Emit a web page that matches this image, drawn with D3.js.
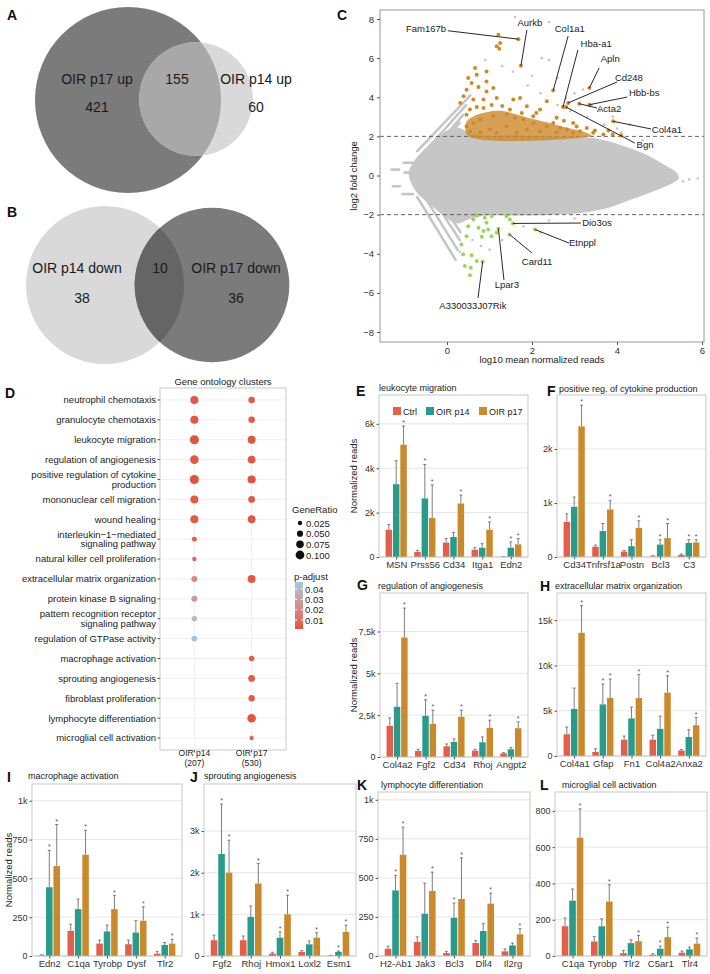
<!DOCTYPE html>
<html>
<head>
<meta charset="utf-8">
<script src="https://cdn.jsdelivr.net/npm/d3@7"></script>
<style>
  body { margin: 0; background: #fff; }
  svg { display: block; font-family: "Liberation Sans", Arial, sans-serif; }
</style>
</head>
<body>
<svg id="fig" width="710" height="974"></svg>
<script>
// ---------------- data ----------------
// Venn diagrams: [only first, shared, only second]
const vennUpSets = ['OIR p17 up', 'OIR p14 up'];
const vennUpCounts = [421, 155, 60];
const vennDownSets = ['OIR p14 down', 'OIR p17 down'];
const vennDownCounts = [38, 10, 36];

// MA plot (log10 mean reads, log2 fold change)
const maCloud = [[-0.9,0.1],[-0.75,0.8],[-0.5,1.4],[-0.25,1.9],[0.0,2.3],[0.25,2.45],[0.5,2.2],[0.8,2.05],
  [1.5,2.05],[2.5,2.0],[3.3,1.95],[3.8,1.75],[4.3,1.4],[4.8,0.95],[5.15,0.5],[5.4,0.15],[5.45,-0.15],
  [5.2,-0.5],[4.8,-0.85],[4.3,-1.25],[3.8,-1.65],[3.2,-1.9],[2.5,-2.0],[1.5,-2.05],[0.9,-2.05],
  [0.5,-2.25],[0.25,-2.45],[0.0,-2.2],[-0.25,-1.75],[-0.5,-1.3],[-0.75,-0.75]];
const maStreaks = [[-0.7,1.25,0.55,4.1],[-0.55,1.15,0.45,3.6],[-0.4,1.1,0.38,3.1],[-0.25,1.3,0.3,2.7],
  [-0.7,-1.1,0.2,-4.3],[-0.55,-1.0,0.25,-3.8],[-0.4,-0.95,0.3,-3.3],[-0.25,-1.1,0.32,-2.9],
  [-1.30,0.30,-1.13,0.30],[-1.27,-0.55,-1.11,-0.55],[-1.02,0.65,-0.80,0.65],[-1.05,-0.95,-0.80,-0.95],[-1.0,0.15,-0.8,0.15]];
const maGrayPts = [[1.6,8.1],[2.4,7.85],[2.23,6.0],[2.4,5.9],[1.55,5.3],[2.0,5.1],[2.6,5.0],[1.3,5.6],[0.9,5.9],
  [3.2,4.4],[3.0,4.2],[2.8,3.95],[3.6,3.3],[3.9,3.0],[4.3,2.6],[4.1,2.2],[4.6,1.8],[5.7,-0.2],[5.9,-0.15],
  [5.55,-0.3],[1.8,-2.6],[2.2,-2.9],[1.3,-3.3],[0.8,-3.6],[1.0,-3.8],[0.3,-3.9],[0.6,-3.3],[2.4,-2.3],[3.0,-2.2],
  [2.9,3.3],[3.3,3.0],[3.7,2.6],[4.0,2.4],[2.6,3.6],[2.2,4.2],[1.9,4.6],[3.4,3.6]];
const maUpDense = [[0.5,2.02],[0.45,2.7],[0.65,3.05],[0.95,3.25],[1.3,3.3],[1.6,3.15],[2.0,2.9],[2.4,2.7],
  [2.8,2.45],[3.2,2.25],[3.4,2.05],[3.4,2.02]];
const maUpPts = [[1.21,7.19],[1.25,6.77],[1.17,6.61],[1.23,6.48],[0.66,5.49],[0.93,5.32],[0.70,5.15],[0.50,4.98],
  [0.58,4.73],[0.93,4.81],[0.74,4.52],[0.46,4.39],[0.39,4.05],[0.93,4.30],[1.09,4.47],[0.62,3.88],[0.86,3.88],
  [1.17,3.96],[1.56,3.88],[1.72,3.96],[1.88,3.54],[2.19,3.37],[2.35,3.79],[0.31,3.71],[0.54,3.37],[0.86,3.45],
  [1.48,3.37],[2.03,3.03],[2.58,2.95],[2.97,2.69],[3.29,2.43],[3.44,2.18],[3.68,2.09],[3.48,2.30],[3.13,2.26],
  [2.82,2.35],[2.35,2.52],[1.80,2.86],[1.40,3.11],[1.09,3.03],[0.78,2.86],[0.62,2.69],[0.46,3.11],[0.46,2.52],
  [0.54,2.26],[1.01,2.35],[1.40,2.52],[1.88,2.35],[2.19,2.26],[2.58,2.21],[1.64,2.18],[1.17,2.18],[0.78,2.18],
  [2.97,2.18],[1.76,3.2],[1.6,2.95],[2.03,2.69],[2.5,2.69],[2.66,2.43],[1.3,3.55],[1.05,3.6],[0.7,3.5],
  [2.1,3.2],[2.75,2.8],[3.05,2.5],[3.9,2.1],[4.1,2.05],[3.8,2.3]];
const maDownPts = [[0.70,-2.04],[0.89,-2.16],[1.05,-2.08],[1.40,-2.08],[1.48,-2.25],[0.50,-2.59],[0.74,-2.67],
  [0.86,-2.84],[0.97,-2.76],[0.46,-3.10],[0.82,-3.13],[1.05,-3.10],[0.34,-3.52],[0.38,-4.03],[0.58,-4.08],
  [0.70,-4.37],[0.42,-4.63],[0.56,-4.71],[0.54,-5.10],[0.62,-2.25],[0.93,-2.42],[1.17,-2.93]];
// labelled genes: name, point, label position, line start, anchor
const maCallouts = [
  ['Fam167b', 1.68, 6.97, -0.02, 7.34, 0.02, 7.40, 'end'],
  ['Aurkb', 1.74, 5.61, 1.95, 7.64, 1.88, 7.44, 'middle'],
  ['Col1a1', 2.50, 4.35, 2.89, 7.34, 2.85, 7.13, 'middle'],
  ['Hba-a1', 2.73, 3.50, 3.51, 6.57, 3.08, 6.42, 'middle'],
  ['Apln', 3.35, 4.47, 3.84, 5.80, 3.58, 5.50, 'middle'],
  ['Cd248', 2.85, 3.71, 4.28, 4.83, 4.00, 4.78, 'middle'],
  ['Hbb-bs', 3.35, 3.62, 4.64, 4.06, 4.24, 4.01, 'middle'],
  ['Acta2', 3.11, 3.67, 3.53, 3.25, 3.53, 3.45, 'start'],
  ['Col4a1', 3.91, 2.77, 4.82, 2.17, 4.80, 2.38, 'start'],
  ['Bgn', 2.80, 3.50, 4.66, 1.41, 4.42, 1.66, 'middle'],
  ['Dio3os', 1.55, -2.45, 3.18, -2.58, 3.15, -2.43, 'start'],
  ['Etnppl', 2.07, -2.76, 2.87, -3.60, 2.87, -3.45, 'start'],
  ['Card11', 1.47, -3.01, 2.12, -4.58, 2.00, -3.96, 'middle'],
  ['Lpar3', 1.21, -2.72, 1.41, -5.75, 1.34, -5.34, 'middle'],
  ['A330033J07Rik', 0.84, -4.40, 0.61, -6.82, 0.73, -6.26, 'middle']
];

// GO dot plot
const goTerms = ['neutrophil chemotaxis','granulocyte chemotaxis','leukocyte migration','regulation of angiogenesis',
  'positive regulation of cytokine\nproduction','mononuclear cell migration','wound healing',
  'interleukin\u22121\u2212mediated\nsignaling pathway','natural killer cell proliferation',
  'extracellular matrix organization','protein kinase B signaling','pattern recognition receptor\nsignaling pathway',
  'regulation of GTPase activity','macrophage activation','sprouting angiogenesis','fibroblast proliferation',
  'lymphocyte differentiation','microglial cell activation'];
const goClusters = ['OIR p14', 'OIR p17'];
const goClusterSizes = [207, 530];
const goP14Ratio = [0.083,0.083,0.105,0.095,0.105,0.083,0.083,0.032,0.025,0.046,0.046,0.040,0.046,null,null,null,null,null];
const goP17Ratio = [0.056,0.056,0.083,0.079,0.087,0.060,0.079,null,null,0.083,null,null,null,0.040,0.060,0.053,0.095,0.025];
const goP14Padj = [0.003,0.003,0.002,0.003,0.0013,0.004,0.004,0.006,0.008,0.021,0.027,0.040,0.0468,null,null,null,null,null];
const goP17Padj = [0.004,0.004,0.002,0.003,0.002,0.004,0.003,null,null,0.003,null,null,null,0.005,0.004,0.004,0.002,0.008];
const goRatioTicks = [0.025, 0.050, 0.075, 0.100];
const goPadjTicks = [0.01, 0.02, 0.03, 0.04];

// bar charts: per gene [Ctrl, OIR p14, OIR p17]
const groups = ['Ctrl', 'OIR p14', 'OIR p17'];
const eGenes = ['MSN','Prss56','Cd34','Itga1','Edn2'];
const eMean = [[1230,3280,5060],[230,2640,1760],[650,900,2410],[330,420,1230],[10,420,570]];
const eErr = [[1460,4340,5900],[300,4170,3250],[830,1110,2790],[420,600,1580],[20,680,830]];
const eSig = [[0,0,1],[0,1,1],[0,0,1],[0,0,1],[0,1,1]];
const fGenes = ['Cd34','Tnfrsf1a','Postn','Bcl3','C3'];
const fMean = [[650,930,2420],[190,480,880],[100,200,540],[10,230,350],[40,260,270]];
const fErr = [[800,1110,2810],[220,620,1050],[120,320,670],[25,320,620],[55,320,320]];
const fSig = [[0,0,1],[0,0,1],[0,0,1],[0,1,1],[0,1,1]];
const gGenes = ['Col4a2','Fgf2','Cd34','Rhoj','Angpt2'];
const gMean = [[1860,3000,7140],[360,2460,1980],[640,900,2400],[380,880,1740],[220,460,1720]];
const gErr = [[2340,4400,8900],[460,3420,2800],[780,1080,2800],[460,1200,2200],[260,560,2100]];
const gSig = [[0,0,1],[0,1,1],[0,0,1],[0,0,1],[0,0,1]];
const hGenes = ['Col4a1','Gfap','Fn1','Col4a2','Anxa2'];
const hMean = [[2400,5200,13600],[450,5700,6400],[1800,4150,6400],[1800,3000,7000],[600,2100,3400]];
const hErr = [[3200,7500,16600],[800,7960,8500],[2200,5400,9000],[2300,4400,8850],[700,2900,4250]];
const hSig = [[0,0,1],[0,1,1],[0,0,1],[0,0,1],[0,0,1]];
const iGenes = ['Edn2','C1qa','Tyrobp','Dysf','Tlr2'];
const iMean = [[5,443,579],[162,302,652],[80,158,302],[76,151,227],[15,71,80]];
const iErr = [[8,680,847],[205,367,810],[102,199,389],[102,227,317],[28,86,108]];
const iSig = [[0,1,1],[0,0,1],[0,0,1],[0,0,1],[0,0,1]];
const jGenes = ['Fgf2','Rhoj','Hmox1','Loxl2','Esm1'];
const jMean = [[380,2450,2000],[380,940,1740],[60,440,1000],[100,280,440],[10,100,580]];
const jErr = [[500,3650,2780],[480,1200,2220],[90,580,1460],[130,360,560],[15,120,740]];
const jSig = [[0,1,1],[0,0,1],[0,1,1],[0,0,1],[0,1,1]];
const kGenes = ['H2-Ab1','Jak3','Bcl3','Dll4','Il2rg'];
const kMean = [[47,420,648],[90,271,416],[19,245,365],[83,160,335],[30,68,139]];
const kErr = [[62,516,825],[122,467,537],[30,339,629],[100,207,403],[45,83,175]];
const kSig = [[0,1,1],[0,0,1],[0,1,1],[0,0,1],[0,0,1]];
const lGenes = ['C1qa','Tyrobp','Tlr2','C5ar1','Tlr4'];
const lMean = [[164,305,652],[80,164,300],[16,71,82],[7,40,104],[18,37,68]];
const lErr = [[210,369,811],[108,205,393],[31,89,113],[13,55,159],[27,49,99]];
const lSig = [[0,0,1],[0,0,1],[0,0,1],[0,1,1],[0,0,1]];

// ---------------- drawing ----------------
const svg = d3.select('#fig');
const TXT = '#222';
const groupColor = d3.scaleOrdinal().domain(groups).range(['#e0604c', '#2a9a8b', '#c98a2d']);

function letter(s, x, y) {
  svg.append('text').attr('x', x).attr('y', y).text(s)
    .style('font-size', '14px').style('font-weight', 'bold').style('fill', '#111');
}

// Venn diagrams
function venn(sets, counts, o) {
  const g = svg.append('g');
  const r = d3.scaleSqrt().domain([0, o.total]).range([0, o.rMax]);
  const r1 = r(counts[0] + counts[1]);
  const r2 = r(counts[1] + counts[2]);
  const id = 'clip' + o.id;
  g.append('clipPath').attr('id', id).append('circle').attr('cx', o.cx1).attr('cy', o.cy1).attr('r', r1);
  g.append('circle').attr('cx', o.cx1).attr('cy', o.cy1).attr('r', r1).attr('fill', o.colors[0]);
  g.append('circle').attr('cx', o.cx2).attr('cy', o.cy2).attr('r', r2).attr('fill', o.colors[1]);
  g.append('circle').attr('cx', o.cx2).attr('cy', o.cy2).attr('r', r2).attr('fill', o.colors[2])
    .attr('clip-path', `url(#${id})`);
  const t = (x, y, s) => g.append('text').attr('x', x).attr('y', y).attr('text-anchor', 'middle')
    .style('font-size', '14px').style('fill', '#1a1a1a').text(s);
  t(o.lx[0], o.ty, sets[0]);
  t(o.lx[2], o.ty, sets[1]);
  t(o.lx[1], o.ty, counts[1]);
  t(o.cx[0], o.cy, counts[0]);
  t(o.cx[1], o.cy, counts[2]);
}
letter('A', 7, 20);
venn(vennUpSets, vennUpCounts, {id: 'A', total: 576, rMax: 93, cx1: 128, cy1: 100, cx2: 196, cy2: 99,
  colors: ['#7b7b7b', '#d9d9d9', '#a8a8a8'], lx: [97, 177, 256], ty: 84, cx: [97, 256], cy: 112});
letter('B', 7, 217);
venn(vennDownSets, vennDownCounts, {id: 'B', total: 48, rMax: 79, cx1: 105, cy1: 285, cx2: 212, cy2: 285,
  colors: ['#d9d9d9', '#7b7b7b', '#656565'], lx: [77, 160, 236], ty: 273, cx: [82, 236], cy: 303});

// MA plot
letter('C', 337, 20);
const ma = {x0: 380, x1: 704, y0: 10, y1: 342};
const maX = d3.scaleLinear().domain([-1.576, 6.047]).range([ma.x0, ma.x1]);
const maY = d3.scaleLinear().domain([-8.51, 8.46]).range([ma.y1, ma.y0]);
const gMA = svg.append('g');
gMA.append('clipPath').attr('id', 'maclip').append('rect')
  .attr('x', ma.x0).attr('y', ma.y0).attr('width', ma.x1 - ma.x0).attr('height', ma.y1 - ma.y0);
const maPlot = gMA.append('g').attr('clip-path', 'url(#maclip)');
const GRAY = '#c6c6c6';
maPlot.append('path').datum(maCloud)
  .attr('d', d3.line().x(d => maX(d[0])).y(d => maY(d[1])).curve(d3.curveCatmullRomClosed))
  .attr('fill', GRAY);
maPlot.selectAll('line.streak').data(maStreaks).join('line').attr('class', 'streak')
  .attr('x1', d => maX(d[0])).attr('y1', d => maY(d[1])).attr('x2', d => maX(d[2])).attr('y2', d => maY(d[3]))
  .attr('stroke', GRAY).attr('stroke-width', 2.6).attr('stroke-linecap', 'round');
maPlot.selectAll('circle.gray').data(maGrayPts).join('circle').attr('class', 'gray')
  .attr('cx', d => maX(d[0])).attr('cy', d => maY(d[1])).attr('r', 1.3).attr('fill', GRAY);
maPlot.selectAll('line.cut').data([2, -2]).join('line').attr('class', 'cut')
  .attr('x1', ma.x0).attr('x2', ma.x1).attr('y1', d => maY(d)).attr('y2', d => maY(d))
  .attr('stroke', '#555').attr('stroke-dasharray', '4,3').attr('stroke-width', 0.9);
const ORANGE = '#cd8a2b', GREEN = '#9bd65c';
maPlot.append('path').datum(maUpDense)
  .attr('d', d3.line().x(d => maX(d[0])).y(d => maY(d[1])).curve(d3.curveCatmullRomClosed))
  .attr('fill', ORANGE).attr('opacity', 0.8);
maPlot.selectAll('circle.up').data(maUpPts).join('circle').attr('class', 'up')
  .attr('cx', d => maX(d[0])).attr('cy', d => maY(d[1])).attr('r', 2).attr('fill', ORANGE);
maPlot.selectAll('circle.down').data(maDownPts).join('circle').attr('class', 'down')
  .attr('cx', d => maX(d[0])).attr('cy', d => maY(d[1])).attr('r', 2).attr('fill', GREEN);
maPlot.selectAll('circle.call').data(maCallouts).join('circle').attr('class', 'call')
  .attr('cx', d => maX(d[1])).attr('cy', d => maY(d[2])).attr('r', 2)
  .attr('fill', d => d[2] > 0 ? ORANGE : GREEN);
maPlot.selectAll('line.call').data(maCallouts).join('line').attr('class', 'call')
  .attr('x1', d => maX(d[5])).attr('y1', d => maY(d[6])).attr('x2', d => maX(d[1])).attr('y2', d => maY(d[2]))
  .attr('stroke', '#111').attr('stroke-width', 0.9);
maPlot.selectAll('text.call').data(maCallouts).join('text').attr('class', 'call')
  .attr('x', d => maX(d[3])).attr('y', d => maY(d[4])).attr('text-anchor', d => d[7])
  .style('font-size', '9.5px').style('fill', TXT).text(d => d[0]);
gMA.append('rect').attr('x', ma.x0).attr('y', ma.y0).attr('width', ma.x1 - ma.x0).attr('height', ma.y1 - ma.y0)
  .attr('fill', 'none').attr('stroke', '#999').attr('stroke-width', 1);

function styleAxis(sel, fs) {
  sel.select('.domain').remove();
  sel.selectAll('.tick line').attr('stroke', '#555');
  sel.selectAll('.tick text').style('font-size', fs).style('fill', '#333')
    .style('font-family', '"Liberation Sans", Arial, sans-serif');
}
gMA.append('g').attr('transform', `translate(${ma.x0},0)`)
  .call(d3.axisLeft(maY).tickValues([-8, -6, -4, -2, 0, 2, 4, 6, 8]).tickSize(3).tickPadding(3))
  .call(s => styleAxis(s, '9.5px'));
gMA.append('g').attr('transform', `translate(0,${ma.y1})`)
  .call(d3.axisBottom(maX).tickValues([0, 2, 4, 6]).tickSize(3).tickPadding(2))
  .call(s => styleAxis(s, '9.5px'));
gMA.append('text').attr('x', (ma.x0 + ma.x1) / 2).attr('y', 363).attr('text-anchor', 'middle')
  .style('font-size', '9.5px').style('fill', TXT).text('log10 mean normalized reads');
gMA.append('text').attr('transform', `translate(357,${(ma.y0 + ma.y1) / 2}) rotate(-90)`)
  .attr('text-anchor', 'middle').style('font-size', '9.5px').style('fill', TXT).text('log2 fold change');

// GO dot plot
letter('D', 5, 398);
const go = {x0: 160, x1: 286, y0: 388, y1: 750};
const goX = d3.scalePoint().domain(goClusters).range([go.x0, go.x1]).padding(0.6);
const goY = d3.scalePoint().domain(goTerms).range([go.y0, go.y1]).padding(0.6);
const goR = d3.scaleSqrt().domain([0, 0.1]).range([0, 4.4]);
const goC = d3.scaleLinear().domain([0.0013, 0.0468]).range(['#e0533f', '#9ec8e2']).interpolate(d3.interpolateLab);
const goData = [];
goTerms.forEach((t, i) => {
  if (goP14Ratio[i] != null) goData.push({term: t, cl: goClusters[0], r: goP14Ratio[i], p: goP14Padj[i]});
  if (goP17Ratio[i] != null) goData.push({term: t, cl: goClusters[1], r: goP17Ratio[i], p: goP17Padj[i]});
});
const gGO = svg.append('g');
gGO.selectAll('line.hg').data(goTerms).join('line').attr('class', 'hg')
  .attr('x1', go.x0).attr('x2', go.x1).attr('y1', d => goY(d)).attr('y2', d => goY(d))
  .attr('stroke', '#ececec').attr('stroke-width', 0.8);
gGO.selectAll('line.vg').data(goClusters).join('line').attr('class', 'vg')
  .attr('y1', go.y0).attr('y2', go.y1).attr('x1', d => goX(d)).attr('x2', d => goX(d))
  .attr('stroke', '#ececec').attr('stroke-width', 0.8);
gGO.append('rect').attr('x', go.x0).attr('y', go.y0).attr('width', go.x1 - go.x0).attr('height', go.y1 - go.y0)
  .attr('fill', 'none').attr('stroke', '#c8c8c8');
gGO.selectAll('circle.dot').data(goData).join('circle').attr('class', 'dot')
  .attr('cx', d => goX(d.cl)).attr('cy', d => goY(d.term)).attr('r', d => goR(d.r)).attr('fill', d => goC(d.p));
gGO.selectAll('line.yt').data(goTerms).join('line').attr('class', 'yt')
  .attr('x1', go.x0 - 2.5).attr('x2', go.x0).attr('y1', d => goY(d)).attr('y2', d => goY(d)).attr('stroke', '#555');
gGO.selectAll('line.xt').data(goClusters).join('line').attr('class', 'xt')
  .attr('y1', go.y1).attr('y2', go.y1 + 2.5).attr('x1', d => goX(d)).attr('x2', d => goX(d)).attr('stroke', '#555');
gGO.selectAll('text.term').data(goTerms).join('text').attr('class', 'term')
  .attr('x', go.x0 - 4).attr('y', d => goY(d)).attr('text-anchor', 'end')
  .style('font-size', '9.5px').style('fill', TXT)
  .each(function (d) {
    const lines = d.split('\n');
    d3.select(this).selectAll('tspan').data(lines).join('tspan')
      .attr('x', go.x0 - 4)
      .attr('dy', (l, i) => i === 0 ? (lines.length === 1 ? '0.35em' : '-0.15em') : '1em')
      .text(l => l);
  });
goClusters.forEach((c, i) => {
  gGO.append('text').attr('x', goX(c)).attr('y', 756).attr('text-anchor', 'middle')
    .style('font-size', '8.5px').style('fill', TXT).text(c);
  gGO.append('text').attr('x', goX(c)).attr('y', 766).attr('text-anchor', 'middle')
    .style('font-size', '8.5px').style('fill', TXT).text(`(${goClusterSizes[i]})`);
});
gGO.append('text').attr('x', (go.x0 + go.x1) / 2).attr('y', 385).attr('text-anchor', 'middle')
  .style('font-size', '9.5px').style('fill', TXT).text('Gene ontology clusters');
// size legend
gGO.append('text').attr('x', 292).attr('y', 513).style('font-size', '9.5px').style('fill', TXT).text('GeneRatio');
const legY = d3.scaleLinear().domain([0.025, 0.1]).range([523, 555]);
gGO.selectAll('circle.leg').data(goRatioTicks).join('circle').attr('class', 'leg')
  .attr('cx', 300).attr('cy', d => legY(d)).attr('r', d => goR(d)).attr('fill', '#111');
gGO.selectAll('text.leg').data(goRatioTicks).join('text').attr('class', 'leg')
  .attr('x', 306).attr('y', d => legY(d) + 3.5).style('font-size', '9.5px').style('fill', TXT)
  .text(d => d.toFixed(3));
// colour legend
gGO.append('text').attr('x', 294).attr('y', 580).style('font-size', '9.5px').style('fill', TXT).text('p-adjust');
const grad = svg.append('defs').append('linearGradient').attr('id', 'padj')
  .attr('x1', 0).attr('x2', 0).attr('y1', 0).attr('y2', 1);
d3.range(0, 1.001, 0.1).forEach(t => {
  grad.append('stop').attr('offset', t).attr('stop-color', goC(0.0468 - t * (0.0468 - 0.0013)));
});
const barY = d3.scaleLinear().domain(goC.domain()).range([629, 582]);
gGO.append('rect').attr('x', 295).attr('y', 582).attr('width', 8).attr('height', 47).attr('fill', 'url(#padj)');
gGO.selectAll('line.cb').data(goPadjTicks).join('line').attr('class', 'cb')
  .attr('x1', 295).attr('x2', 297).attr('y1', d => barY(d)).attr('y2', d => barY(d)).attr('stroke', '#fff');
gGO.selectAll('line.cb2').data(goPadjTicks).join('line').attr('class', 'cb2')
  .attr('x1', 301).attr('x2', 303).attr('y1', d => barY(d)).attr('y2', d => barY(d)).attr('stroke', '#fff');
gGO.selectAll('text.cb').data(goPadjTicks).join('text').attr('class', 'cb')
  .attr('x', 305).attr('y', d => barY(d) + 3.5).style('font-size', '9.5px').style('fill', TXT)
  .text(d => d.toFixed(2));

// bar panels
function barPanel(p, genes, means, errs, sig) {
  const g = svg.append('g');
  letter(p.letter, p.lx, p.ly);
  g.append('text').attr('x', p.tx).attr('y', p.ty).style('font-size', '9px').style('fill', TXT).text(p.title);
  const x = d3.scalePoint().domain(genes).range([p.x0, p.x1]).padding(0.6);
  const xi = d3.scaleBand().domain(groups).range([-0.37 * x.step(), 0.37 * x.step()]).paddingInner(0.12);
  const y = d3.scaleLinear().domain([0, p.ymax]).range([p.y1, p.y0]);
  g.selectAll('line.grid').data(p.ticks).join('line').attr('class', 'grid')
    .attr('x1', p.x0).attr('x2', p.x1).attr('y1', d => y(d)).attr('y2', d => y(d))
    .attr('stroke', '#e3e3e3').attr('stroke-width', 0.9);
  const rows = [];
  genes.forEach((gene, i) => groups.forEach((grp, j) => {
    rows.push({gene, grp, mean: means[i][j], err: errs[i][j], sig: sig[i][j]});
  }));
  const cx = d => x(d.gene) + xi(d.grp) + xi.bandwidth() / 2;
  g.selectAll('line.err').data(rows).join('line').attr('class', 'err')
    .attr('x1', cx).attr('x2', cx).attr('y1', d => y(d.mean)).attr('y2', d => y(d.err))
    .attr('stroke', '#6f6f6f').attr('stroke-width', 0.9);
  g.selectAll('line.cap').data(rows).join('line').attr('class', 'cap')
    .attr('x1', d => cx(d) - 1.5).attr('x2', d => cx(d) + 1.5).attr('y1', d => y(d.err)).attr('y2', d => y(d.err))
    .attr('stroke', '#6f6f6f').attr('stroke-width', 0.9);
  g.selectAll('rect.bar').data(rows).join('rect').attr('class', 'bar')
    .attr('x', d => x(d.gene) + xi(d.grp)).attr('width', xi.bandwidth())
    .attr('y', d => y(d.mean)).attr('height', d => y(0) - y(d.mean)).attr('fill', d => groupColor(d.grp));
  g.selectAll('text.sig').data(rows.filter(d => d.sig)).join('text').attr('class', 'sig')
    .attr('x', cx).attr('y', d => y(d.err) - 1).attr('text-anchor', 'middle')
    .style('font-size', '7px').style('fill', '#555').text('*');
  g.append('rect').attr('x', p.x0).attr('y', p.y0).attr('width', p.x1 - p.x0).attr('height', p.y1 - p.y0)
    .attr('fill', 'none').attr('stroke', '#c2c2c2').attr('stroke-width', 0.9);
  g.append('g').attr('transform', `translate(${p.x0},0)`)
    .call(d3.axisLeft(y).tickValues(p.ticks).tickFormat((d, i) => p.tickLabels[i]).tickSize(2.5).tickPadding(2))
    .call(s => styleAxis(s, '9px'));
  g.append('g').attr('transform', `translate(0,${p.y1})`)
    .call(d3.axisBottom(x).tickSize(2.5).tickPadding(1.5))
    .call(s => styleAxis(s, '9.5px'));
  if (p.ylab) {
    g.append('text').attr('transform', `translate(${p.ylab},${(p.y0 + p.y1) / 2}) rotate(-90)`)
      .attr('text-anchor', 'middle').style('font-size', '9.5px').style('fill', TXT).text('Normalized reads');
  }
  if (p.legend) {
    const lg = g.append('g').selectAll('g').data(groups).join('g')
      .attr('transform', (d, i) => `translate(${[393, 426, 479][i]},407)`);
    lg.append('rect').attr('width', 8).attr('height', 8).attr('fill', d => groupColor(d));
    lg.append('text').attr('x', 10).attr('y', 7.5).style('font-size', '9px').style('fill', TXT).text(d => d);
  }
}

barPanel({letter: 'E', lx: 356, ly: 396, title: 'leukocyte migration', tx: 379, ty: 391,
  x0: 379, x1: 528, y0: 395, y1: 557, ymax: 7300, ticks: [0, 2000, 4000, 6000],
  tickLabels: ['0', '2k', '4k', '6k'], ylab: 357, legend: true}, eGenes, eMean, eErr, eSig);
barPanel({letter: 'F', lx: 547, ly: 396, title: 'positive reg. of cytokine production', tx: 559, ty: 392,
  x0: 557, x1: 706, y0: 395, y1: 557, ymax: 3000, ticks: [0, 1000, 2000],
  tickLabels: ['0', '1k', '2k']}, fGenes, fMean, fErr, fSig);
barPanel({letter: 'G', lx: 357, ly: 590, title: 'regulation of angiogenesis', tx: 378, ty: 589,
  x0: 380, x1: 528, y0: 593, y1: 757, ymax: 9800, ticks: [0, 2500, 5000, 7500],
  tickLabels: ['0', '2,5k', '5k', '7,5k'], ylab: 357}, gGenes, gMean, gErr, gSig);
barPanel({letter: 'H', lx: 540, ly: 591, title: 'extracellular matrix organization', tx: 555, ty: 589,
  x0: 557, x1: 706, y0: 593, y1: 756, ymax: 18000, ticks: [0, 5000, 10000, 15000],
  tickLabels: ['0', '5k', '10k', '15k']}, hGenes, hMean, hErr, hSig);
barPanel({letter: 'I', lx: 7, ly: 782, title: 'macrophage activation', tx: 28, ty: 779,
  x0: 32, x1: 182, y0: 784, y1: 956, ymax: 1108, ticks: [0, 250, 500, 750, 1000],
  tickLabels: ['0', '250', '500', '750', '1k'], ylab: 12}, iGenes, iMean, iErr, iSig);
barPanel({letter: 'J', lx: 190, ly: 782, title: 'sprouting angiogenesis', tx: 204, ty: 779,
  x0: 204, x1: 356, y0: 784, y1: 956, ymax: 4130, ticks: [0, 1000, 2000, 3000],
  tickLabels: ['0', '1k', '2k', '3k']}, jGenes, jMean, jErr, jSig);
barPanel({letter: 'K', lx: 357, ly: 790, title: 'lymphocyte differentiation', tx: 381, ty: 788,
  x0: 378, x1: 530, y0: 792, y1: 956, ymax: 1050, ticks: [0, 250, 500, 750, 1000],
  tickLabels: ['0', '250', '500', '750', '1k']}, kGenes, kMean, kErr, kSig);
barPanel({letter: 'L', lx: 540, ly: 790, title: 'microglial cell activation', tx: 562, ty: 788,
  x0: 555, x1: 707, y0: 792, y1: 956, ymax: 904, ticks: [0, 200, 400, 600, 800],
  tickLabels: ['0', '200', '400', '600', '800']}, lGenes, lMean, lErr, lSig);
</script>
</body>
</html>
